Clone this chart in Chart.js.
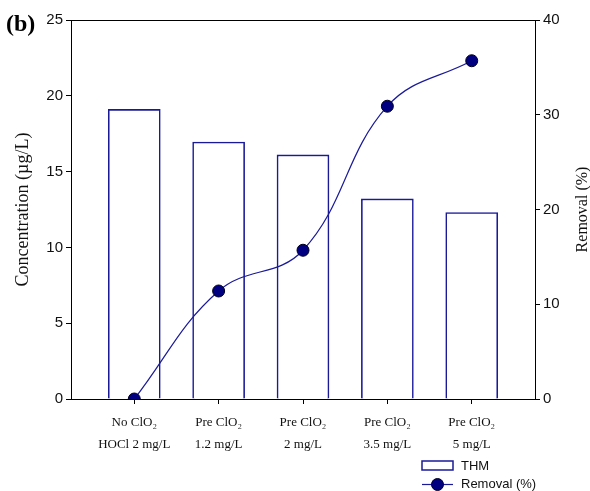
<!DOCTYPE html>
<html>
<head>
<meta charset="utf-8">
<script src="https://cdn.jsdelivr.net/npm/chart.js@4"></script>
<style>
html,body{margin:0;padding:0;background:#fff;}
#wrap{position:relative;width:590px;height:491px;}
</style>
</head>
<body>
<div id="wrap"><canvas id="c" width="590" height="491"></canvas></div>
<script>
const categories = [
  ["No ClO\u2082", "HOCl 2 mg/L"],
  ["Pre ClO\u2082", "1.2 mg/L"],
  ["Pre ClO\u2082", "2 mg/L"],
  ["Pre ClO\u2082", "3.5 mg/L"],
  ["Pre ClO\u2082", "5 mg/L"]
];
const thm = [19.1, 16.95, 16.1, 13.2, 12.3];
const removal = [0, 11.4, 15.7, 30.9, 35.7];
const leftTicks = [0, 5, 10, 15, 20, 25];
const rightTicks = [0, 10, 20, 30, 40];
const seriesNames = ["THM", "Removal (%)"];
const panelLabel = "(b)";
const leftTitle = "Concentration (\u00b5g/L)";
const rightTitle = "Removal (%)";

const NAVY = '#1a1a99';
const SANS = "'Liberation Sans', Arial, sans-serif";
const SERIF = "'Liberation Serif', 'Times New Roman', serif";

const extras = {
  id: 'extras',
  afterDraw(chart) {
    const ctx = chart.ctx;
    const a = chart.chartArea;
    ctx.save();
    ctx.strokeStyle = '#000';
    ctx.lineWidth = 1;
    ctx.beginPath();
    ctx.moveTo(a.left, a.top + 0.5);
    ctx.lineTo(a.right, a.top + 0.5);
    ctx.stroke();
    ctx.fillStyle = '#000';
    ctx.font = "bold 24px " + SERIF;
    ctx.textAlign = 'left';
    ctx.textBaseline = 'alphabetic';
    ctx.fillText(panelLabel, 6, 31);
    ctx.save();
    ctx.translate(583, (a.top + a.bottom) / 2);
    ctx.rotate(-Math.PI / 2);
    ctx.font = "16px " + SERIF;
    ctx.textAlign = 'center';
    ctx.textBaseline = 'middle';
    ctx.fillStyle = '#111';
    ctx.fillText(rightTitle, 0, 0);
    ctx.restore();
    const lx = 422, lw = 31;
    ctx.strokeStyle = NAVY;
    ctx.lineWidth = 1.5;
    ctx.fillStyle = '#fff';
    ctx.fillRect(lx, 461, lw, 9);
    ctx.strokeRect(lx, 461, lw, 9);
    ctx.lineWidth = 1.2;
    ctx.beginPath();
    ctx.moveTo(lx, 484.5);
    ctx.lineTo(lx + lw, 484.5);
    ctx.stroke();
    ctx.beginPath();
    ctx.arc(lx + lw / 2, 484.5, 6, 0, Math.PI * 2);
    ctx.fillStyle = '#000080';
    ctx.fill();
    ctx.strokeStyle = '#000020';
    ctx.lineWidth = 1;
    ctx.stroke();
    ctx.fillStyle = '#111';
    ctx.font = "13px " + SANS;
    ctx.textAlign = 'left';
    ctx.textBaseline = 'middle';
    ctx.fillText(seriesNames[0], 461, 466);
    ctx.fillText(seriesNames[1], 461, 484.5);
    ctx.restore();
  }
};

new Chart(document.getElementById('c'), {
  type: 'bar',
  data: {
    datasets: [
      {
        type: 'line',
        label: seriesNames[1],
        data: removal.map((v, i) => ({x: i, y: v})),
        yAxisID: 'y2',
        borderColor: NAVY,
        borderWidth: 1.2,
        tension: 0.4,
        pointRadius: 6,
        pointBackgroundColor: '#000080',
        pointBorderColor: '#000020',
        pointBorderWidth: 1,
        order: 0
      },
      {
        type: 'bar',
        label: seriesNames[0],
        data: thm.map((v, i) => ({x: i, y: v})),
        yAxisID: 'y',
        backgroundColor: '#fff',
        borderColor: NAVY,
        borderWidth: 1.6,
        barThickness: 52,
        order: 1
      }
    ]
  },
  options: {
    responsive: false,
    animation: false,
    devicePixelRatio: 1,
    layout: {padding: {top: 20, left: 0, right: 0, bottom: 0}},
    plugins: {legend: {display: false}, tooltip: {enabled: false}},
    scales: {
      x: {
        type: 'linear',
        offset: false,
        min: -0.75, max: 4.75,
        afterBuildTicks: s => { s.ticks = categories.map((c, i) => ({value: i})); },
        afterFit: s => { s.height = 92; },
        grid: {drawOnChartArea: false, tickLength: 5, color: '#000', offset: false},
        border: {color: '#000', width: 1},
        ticks: {
          autoSkip: false, maxRotation: 0,
          callback: v => categories[v],
          font: {family: SERIF, size: 13, lineHeight: 1.65},
          color: '#111', padding: 8
        }
      },
      y: {
        position: 'left',
        min: 0, max: 25,
        afterBuildTicks: s => { s.ticks = leftTicks.map(v => ({value: v})); },
        afterFit: s => { s.width = 71; },
        grid: {drawOnChartArea: false, tickLength: 5, color: '#000'},
        border: {color: '#000', width: 1},
        ticks: {font: {family: SANS, size: 15}, color: '#111', padding: 3},
        title: {display: true, text: leftTitle, font: {family: SERIF, size: 18}, color: '#111', padding: {top: 12, bottom: 4}}
      },
      y2: {
        position: 'right',
        min: 0, max: 40,
        afterBuildTicks: s => { s.ticks = rightTicks.map(v => ({value: v})); },
        afterFit: s => { s.width = 55; },
        grid: {drawOnChartArea: false, tickLength: 5, color: '#000'},
        border: {color: '#000', width: 1},
        ticks: {font: {family: SANS, size: 15}, color: '#111', padding: 3}
      }
    }
  },
  plugins: [extras]
});
</script>
</body>
</html>
